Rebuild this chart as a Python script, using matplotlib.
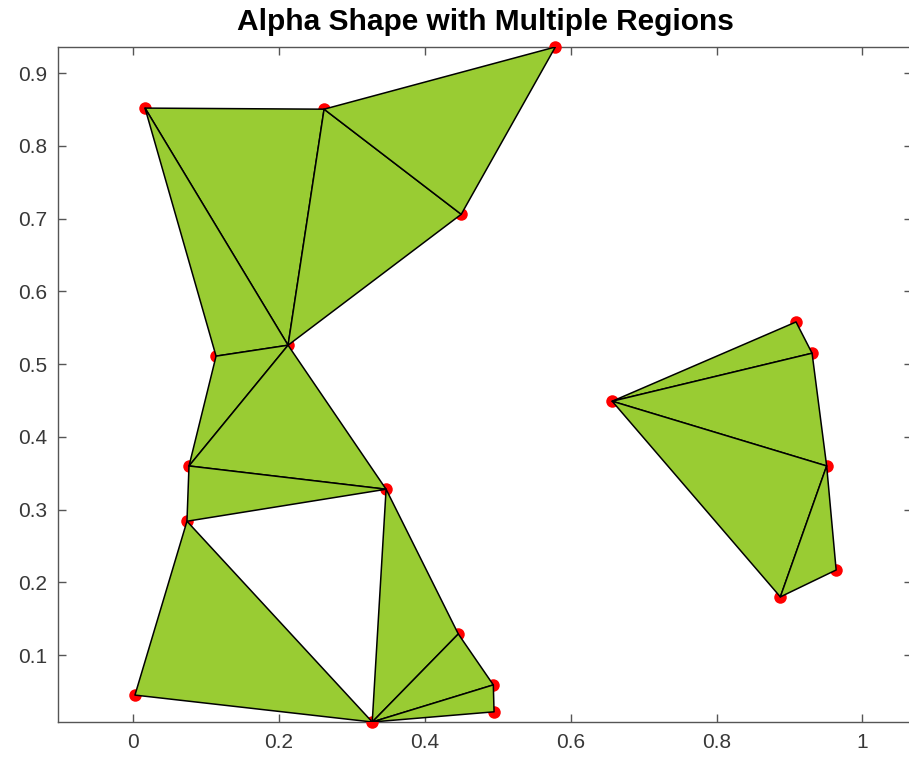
import matplotlib
matplotlib.use("Agg")
import matplotlib.pyplot as plt
import numpy as np
from matplotlib.patches import Polygon

# Points
px = [0.0165, 0.262, 0.579, 0.450, 0.2126, 0.1139, 0.0768, 0.347, 0.074, 0.0027,
      0.328, 0.446, 0.494, 0.495,
      0.657, 0.909, 0.931, 0.951, 0.964, 0.8875]
py = [0.852, 0.8505, 0.936, 0.706, 0.526, 0.511, 0.360, 0.328, 0.284, 0.045,
      0.008, 0.129, 0.059, 0.022,
      0.449, 0.558, 0.515, 0.360, 0.217, 0.180]

# Triangles (indices into points)
triangles = [(0, 1, 4), (0, 4, 5), (1, 3, 4), (1, 2, 3), (4, 5, 6), (4, 6, 7),
             (6, 7, 8), (8, 9, 10), (7, 10, 11), (10, 11, 12), (10, 12, 13),
             (14, 15, 16), (14, 16, 17), (14, 17, 19), (17, 18, 19)]

xticks = [0, 0.2, 0.4, 0.6, 0.8, 1.0]
xticklabels = ["0", "0.2", "0.4", "0.6", "0.8", "1"]
yticks = [0.1, 0.2, 0.3, 0.4, 0.5, 0.6, 0.7, 0.8, 0.9]
yticklabels = ["0.1", "0.2", "0.3", "0.4", "0.5", "0.6", "0.7", "0.8", "0.9"]

plt.rcParams['font.family'] = ['Liberation Sans', 'DejaVu Sans']

W, H = 909, 765
fig = plt.figure(figsize=(W / 100, H / 100), dpi=100)
L, R, T, B = 58, 912, 47, 722
ax = fig.add_axes([L / W, (H - B) / H, (R - L) / W, (B - T) / H])

for t in triangles:
    pts = np.array([[px[i], py[i]] for i in t])
    ax.add_patch(Polygon(pts, closed=True, facecolor='#99cc33',
                         edgecolor='black', linewidth=1.1, joinstyle='round',
                         zorder=2))

ax.plot(px, py, 'o', color='red', markersize=9, markeredgewidth=0,
        zorder=1, clip_on=False)

ax.set_xlim(-0.1028, 1.068)
ax.set_ylim(0.008, 0.936)
ax.set_xticks(xticks)
ax.set_xticklabels(xticklabels)
ax.set_yticks(yticks)
ax.set_yticklabels(yticklabels)

for s in ax.spines.values():
    s.set_color('#555555')
    s.set_linewidth(1.0)
    s.set_zorder(0.5)
ax.tick_params(direction='in', length=6, width=1.0, color='#555555',
               labelsize=15, labelcolor='#383838', top=True, right=True, pad=8)

ax.set_title("Alpha Shape with Multiple Regions", fontsize=21.5, fontweight='bold',
             pad=12, color='black')

fig.savefig("out.png", dpi=100)
